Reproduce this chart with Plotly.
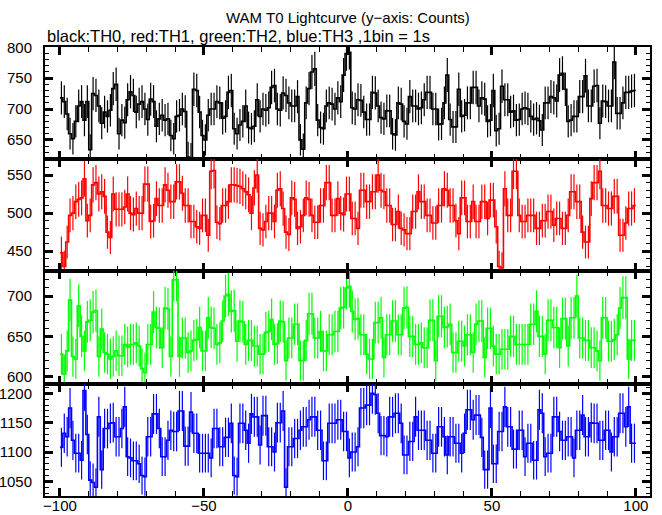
import math
import plotly.graph_objects as go

# Bin left edges (1 s bins) from -100 s to +99 s
time_start = -100
n_bins = 200

th0 = [718,712,692,660,652,680,705,712,682,712,634,725,722,705,677,695,688,698,733,740,
       660,682,678,715,728,722,695,708,712,700,683,716,712,672,684,690,682,684,657,652,
       688,690,700,696,622,620,732,730,695,657,650,690,700,700,712,710,685,688,727,730,
       668,660,674,680,705,670,668,672,715,688,700,698,702,735,738,700,698,726,722,710,
       705,705,720,650,635,710,733,760,765,682,670,668,705,710,708,700,718,712,755,790,
       792,702,700,715,714,695,683,683,727,726,705,686,684,697,697,660,658,710,708,680,
       676,720,705,705,700,702,715,727,727,700,700,675,676,710,755,683,671,671,732,688,
       690,710,710,735,735,705,718,716,680,682,730,665,668,737,715,715,695,697,682,683,
       700,702,700,688,683,685,681,666,710,710,720,718,713,755,758,732,680,682,688,688,
       720,720,754,705,705,737,738,677,713,712,705,705,776,693,693,710,727,727,729,730]

th1 = [448,430,462,497,500,515,518,520,545,490,497,537,540,525,528,522,475,468,525,505,
       505,505,508,525,500,498,506,500,500,538,538,489,490,519,510,510,537,530,515,515,
       541,541,526,510,510,489,489,482,480,497,497,471,555,556,488,486,510,510,515,537,
       537,536,535,532,528,524,500,533,550,480,478,489,500,500,489,530,532,506,475,472,
       520,518,480,482,497,520,518,497,488,488,510,510,540,540,497,497,519,500,498,525,
       525,493,493,480,530,530,515,515,528,528,550,530,528,510,510,485,485,502,480,478,
       473,473,502,502,528,515,515,497,497,487,487,510,510,532,530,510,510,490,473,520,
       520,489,489,515,489,489,515,515,493,517,517,482,430,428,532,497,497,555,555,497,
       489,489,497,497,497,480,480,490,490,502,502,484,493,493,480,480,497,528,528,515,
       515,475,462,462,519,540,540,555,510,510,506,506,522,522,471,471,487,506,506,510]

th2 = [628,603,632,695,625,622,688,650,632,668,670,680,682,625,659,630,628,622,625,632,
       626,626,640,637,640,640,642,638,610,605,640,640,680,661,660,636,685,684,625,720,
       720,625,648,648,630,632,645,646,661,632,632,673,661,660,640,642,669,700,702,681,
       682,644,669,668,640,645,645,638,638,628,628,655,656,671,640,641,669,668,620,648,
       648,665,665,620,620,645,678,678,648,648,656,632,632,652,652,656,656,685,686,710,
       712,681,671,672,652,652,628,622,622,667,667,673,624,652,652,669,669,652,652,685,
       686,650,650,640,640,642,636,636,670,670,620,675,675,661,662,665,630,630,644,644,
       638,652,652,630,665,669,669,624,660,660,638,628,628,634,634,634,650,650,640,640,
       640,640,640,665,665,681,650,650,628,670,670,661,661,636,672,672,638,673,673,700,
       648,648,645,645,636,636,632,620,673,673,644,644,646,652,685,698,698,622,645,645]

th3 = [1108,1132,1126,1175,1120,1098,1098,1086,1205,1130,1052,1048,1040,1160,1070,1140,1140,1149,1150,1126,
       1126,1140,1177,1092,1090,1085,1085,1080,1060,1058,1126,1126,1165,1165,1140,1092,1092,1120,1137,1135,
       1135,1170,1170,1110,1110,1168,1132,1132,1098,1098,1098,1098,1090,1140,1140,1109,1109,1125,1125,1149,
       1060,1058,1149,1149,1137,1115,1165,1160,1160,1112,1162,1162,1109,1109,1100,1150,1150,1170,1040,1109,
       1109,1123,1123,1137,1143,1143,1155,1160,1160,1137,1137,1085,1085,1149,1149,1149,1155,1155,1135,1135,
       1090,1100,1100,1109,1175,1175,1180,1180,1200,1198,1166,1128,1128,1126,1160,1160,1166,1166,1149,1095,
       1095,1118,1118,1160,1137,1137,1137,1120,1120,1098,1098,1143,1143,1126,1095,1126,1126,1115,1115,1098,
       1132,1172,1172,1155,1163,1163,1125,1070,1070,1175,1080,1080,1135,1135,1177,1143,1143,1105,1105,1137,
       1137,1092,1115,1115,1086,1086,1172,1166,1092,1098,1098,1160,1160,1135,1120,1120,1126,1126,1090,1137,
       1137,1163,1126,1126,1150,1149,1149,1120,1120,1137,1137,1100,1126,1126,1166,1166,1143,1177,1115,1115]

series = [th0, th1, th2, th3]
colors = ["#000000", "#ff0000", "#00ff00", "#0000ff"]
y_ranges = [[619, 800.5], [424, 571], [591, 731], [1025, 1216]]

# panel pixel layout (top to bottom)
W, H = 662, 515
top_px, bot_px = 47, 496
bounds = [47, 159, 271, 384, 496]
plot_h = bot_px - top_px

def frac(p):
    return (bot_px - p) / plot_h

edges = [time_start + i for i in range(n_bins)]
centers = [e + 0.5 for e in edges]

fig = go.Figure()
font_family = "Liberation Sans, Arial, Helvetica, sans-serif"

for k, (vals, col) in enumerate(zip(series, colors)):
    n = k + 1
    xa = "x" if n == 1 else f"x{n}"
    ya = "y" if n == 1 else f"y{n}"
    # error bars (Poisson) at bin centres
    fig.add_trace(go.Scatter(
        x=centers, y=vals, mode="markers",
        marker=dict(size=1, color=col, opacity=0),
        error_y=dict(type="data", array=[math.sqrt(v) for v in vals],
                     visible=True, width=0, thickness=1.2, color=col),
        xaxis=xa, yaxis=ya, showlegend=False, hoverinfo="skip"))
    # step line
    fig.add_trace(go.Scatter(
        x=edges + [time_start + n_bins], y=vals + [vals[-1]],
        mode="lines", line=dict(color=col, width=1.6, shape="hv"),
        xaxis=xa, yaxis=ya, showlegend=False))

layout = dict(
    width=W, height=H,
    margin=dict(l=45, r=12, t=top_px, b=H - bot_px, pad=0, autoexpand=False),
    paper_bgcolor="white", plot_bgcolor="white",
    font=dict(family=font_family, size=15, color="black"),
    showlegend=False,
)

for k in range(4):
    n = k + 1
    xkey = "xaxis" if n == 1 else f"xaxis{n}"
    ykey = "yaxis" if n == 1 else f"yaxis{n}"
    yname = "y" if n == 1 else f"y{n}"
    dom = [frac(bounds[k + 1]), frac(bounds[k])]
    layout[xkey] = dict(
        domain=[0, 1], anchor=yname, range=[-105.2, 104.9],
        showgrid=False, zeroline=False, automargin=False,
        showline=True, linecolor="black", linewidth=2, mirror="allticks",
        ticks="inside", ticklen=8, tickwidth=2.5, tickcolor="black",
        tick0=0, dtick=50,
        minor=dict(ticks="inside", dtick=10, tick0=0, ticklen=5, tickwidth=1,
                   tickcolor="black", showgrid=False),
        showticklabels=(n == 4),
        tickfont=dict(size=15, family=font_family),
        ticklabelstandoff=-5,
    )
    if n > 1:
        layout[xkey]["matches"] = "x"
    layout[ykey] = dict(
        domain=dom, anchor="x" if n == 1 else f"x{n}", range=y_ranges[k],
        showgrid=False, zeroline=False, automargin=False,
        showline=True, linecolor="black", linewidth=2, mirror="allticks",
        ticks="inside", ticklen=8, tickwidth=2.5, tickcolor="black",
        tick0=0, dtick=50,
        minor=dict(ticks="inside", dtick=10, tick0=0, ticklen=4, tickwidth=1,
                   tickcolor="black", showgrid=False),
        tickfont=dict(size=15, family=font_family),
        ticklabelstandoff=8,
    )

layout["annotations"] = [
    dict(text="WAM T0 Lightcurve (y\u2212axis: Counts)", xref="paper", yref="paper",
         x=0.5, y=frac(17), xanchor="center", yanchor="middle", showarrow=False,
         font=dict(size=15, family=font_family, color="black")),
    dict(text="black:TH0, red:TH1, green:TH2, blue:TH3 ,1bin = 1s", xref="paper",
         yref="paper", x=0, y=frac(36), xanchor="left", yanchor="middle",
         showarrow=False, font=dict(size=16.5, family=font_family, color="black")),
]

fig.update_layout(**layout)
fig.write_html("out.html", config={"displayModeBar": False},
               post_script="document.body.style.margin='0px';")
